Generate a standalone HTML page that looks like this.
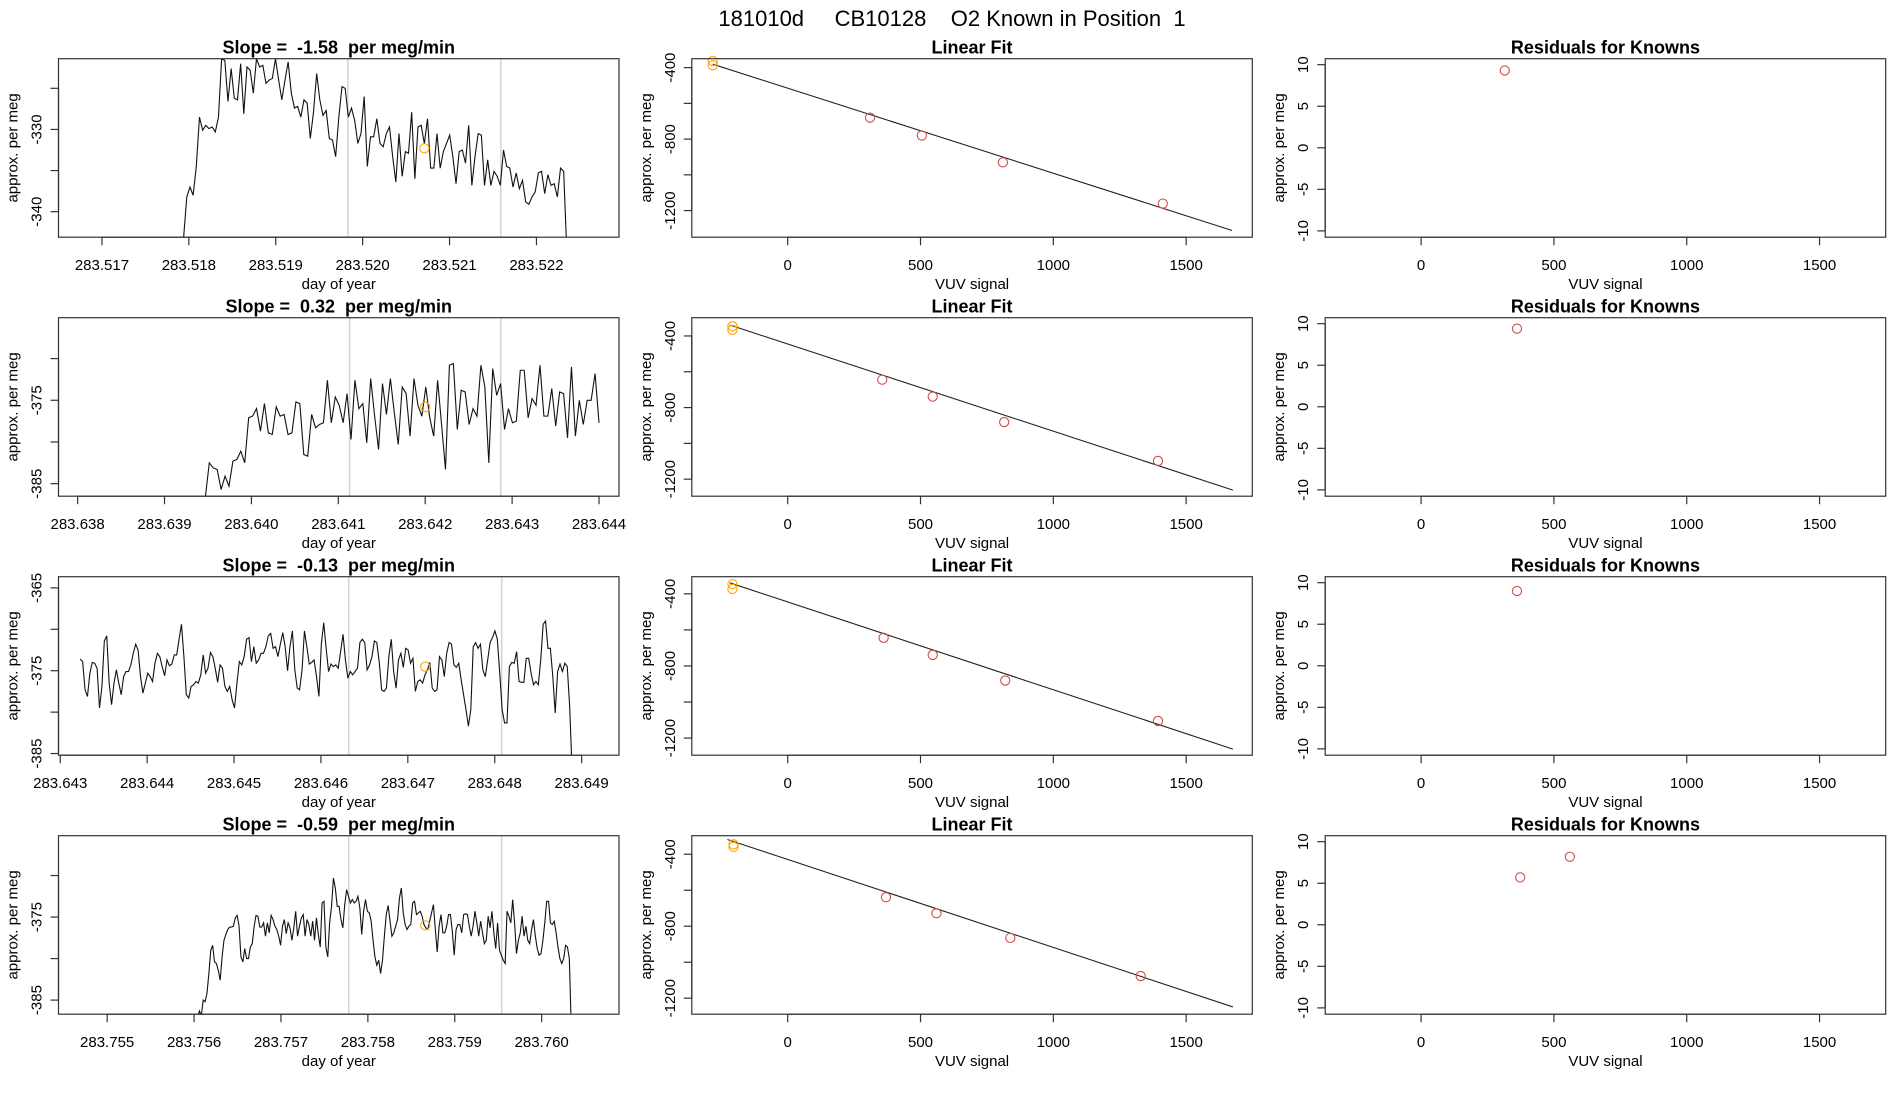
<!DOCTYPE html>
<html>
<head>
<meta charset="utf-8">
<style>
html,body{margin:0;padding:0;background:#fff;}
svg{display:block;}
text{font-family:"Liberation Sans",Arial,sans-serif;fill:#000;white-space:pre;}
</style>
</head>
<body>
<svg id="fig" width="1900" height="1100" viewBox="0 0 1900 1100" xmlns="http://www.w3.org/2000/svg">
<rect x="0" y="0" width="1900" height="1100" fill="#fff"/>
<text x="952" y="26" font-size="22" text-anchor="middle">181010d     CB10128    O2 Known in Position  1</text>
</svg>
<script>
// ===== Time-series panels (column 1) =====
const tsTitles = ["Slope =  -1.58  per meg/min","Slope =  0.32  per meg/min","Slope =  -0.13  per meg/min","Slope =  -0.59  per meg/min"];
const tsStart = [283.51794, 283.63947, 283.64323, 283.75604];
const tsEnd = [283.52235, 283.64400, 283.64889, 283.76034];
const tsXlimLo = [283.51650, 283.63778, 283.64298, 283.75444];
const tsXlimHi = [283.52295, 283.64423, 283.64943, 283.76089];
const tsYlimLo = [-343.1, -386.5, -385.2, -386.7];
const tsYlimHi = [-321.4, -365.1, -363.65, -365.2];
const tsXTicks = [
  [283.517,283.518,283.519,283.520,283.521,283.522],
  [283.638,283.639,283.640,283.641,283.642,283.643,283.644],
  [283.643,283.644,283.645,283.646,283.647,283.648,283.649],
  [283.755,283.756,283.757,283.758,283.759,283.760]
];
const tsYTicks = [[-325,-330,-335,-340],[-370,-375,-380,-385],[-365,-370,-375,-380,-385],[-370,-375,-380,-385]];
const tsYLabels = [[-330,-340],[-375,-385],[-365,-375,-385],[-375,-385]];
const tsGrayA = [283.51983, 283.64113, 283.64632, 283.75778];
const tsGrayB = [283.52159, 283.64287, 283.64808, 283.75954];
const tsOrangeT = [283.52071, 283.64200, 283.64720, 283.75866];
const tsOrangeV = [-332.3, -375.8, -374.5, -376.0];

const tsValues1 = [-343.1,-338.2,-337.0,-338.0,-334.5,-328.5,-330.1,-329.5,-329.9,-329.7,-330.3,-328.5,-321.4,-321.6,-326.6,-322.6,-326.2,-326.4,-322.0,-328.1,-322.4,-322.8,-325.6,-321.4,-322.4,-322.2,-324.4,-324.0,-323.8,-321.4,-324.0,-326.4,-324.0,-321.8,-325.6,-327.4,-327.2,-328.5,-326.4,-326.8,-331.1,-327.9,-323.2,-326.4,-328.3,-327.7,-331.1,-331.3,-333.3,-328.5,-324.8,-325.0,-328.5,-327.4,-328.9,-331.7,-330.5,-326.0,-334.5,-330.9,-330.9,-328.7,-331.7,-332.1,-330.5,-329.7,-333.3,-336.4,-330.5,-335.7,-332.7,-332.9,-327.9,-336.0,-329.7,-329.5,-331.7,-328.7,-334.7,-334.7,-330.5,-334.7,-332.7,-331.7,-330.7,-333.3,-336.6,-332.7,-332.5,-334.1,-329.5,-336.8,-333.3,-330.5,-330.7,-336.8,-333.7,-336.8,-335.1,-335.7,-336.8,-332.5,-334.5,-334.7,-337.0,-335.3,-337.2,-336.2,-338.8,-339.1,-338.2,-337.6,-335.3,-335.1,-337.8,-335.5,-336.8,-336.6,-338.2,-334.7,-335.1,-345.0];
const tsValues2 = [-386.6,-382.5,-383.1,-383.3,-385.7,-384.1,-385.3,-382.3,-382.1,-381.1,-382.5,-377.1,-376.9,-376.0,-378.7,-375.4,-378.9,-379.1,-375.8,-376.9,-376.7,-379.1,-378.9,-375.2,-375.4,-381.5,-381.7,-376.7,-378.3,-377.9,-377.7,-372.6,-377.7,-374.6,-375.6,-377.7,-374.2,-379.7,-372.6,-376.0,-375.4,-380.1,-372.4,-376.9,-380.9,-373.0,-376.7,-372.4,-376.5,-380.3,-373.4,-374.2,-379.3,-372.4,-375.6,-376.9,-373.4,-377.1,-379.3,-372.6,-377.9,-383.3,-370.8,-370.6,-378.5,-373.8,-374.0,-377.9,-376.0,-376.9,-370.8,-373.4,-382.5,-371.2,-374.4,-373.0,-378.5,-376.0,-377.7,-377.5,-371.4,-371.4,-377.1,-374.8,-375.6,-370.8,-376.9,-376.9,-373.6,-378.1,-374.0,-374.2,-379.5,-371.0,-379.3,-375.0,-377.9,-375.0,-375.0,-371.8,-377.7];
const tsValues3 = [-373.6,-373.9,-377.3,-378.1,-375.3,-374.0,-374.1,-374.7,-379.5,-376.9,-371.4,-370.8,-376.5,-379.1,-376.5,-374.9,-376.5,-377.9,-375.7,-375.1,-375.1,-374.3,-372.9,-371.8,-372.5,-375.7,-377.7,-376.5,-375.3,-375.7,-376.3,-374.1,-372.9,-373.3,-374.5,-375.6,-373.7,-374.4,-374.2,-373.1,-373.1,-371.2,-369.4,-373.3,-377.9,-378.3,-376.9,-376.7,-376.3,-376.5,-375.5,-373.1,-375.3,-374.7,-372.8,-373.3,-374.7,-376.4,-374.3,-374.7,-376.9,-377.5,-376.9,-378.5,-379.5,-376.5,-373.9,-374.3,-373.3,-371.2,-371.0,-373.9,-372.1,-374.1,-373.7,-372.9,-372.9,-372.1,-370.8,-370.5,-372.3,-372.1,-373.3,-371.8,-370.4,-372.1,-375.0,-372.1,-370.2,-374.9,-377.1,-377.3,-374.9,-370.2,-372.1,-374.2,-374.0,-373.7,-375.7,-378.1,-371.8,-369.2,-372.3,-375.1,-374.2,-374.5,-374.3,-374.7,-372.7,-370.6,-373.7,-375.9,-375.1,-375.5,-375.1,-374.7,-371.6,-371.2,-371.6,-374.9,-374.3,-373.3,-371.4,-371.6,-373.9,-377.3,-377.5,-377.1,-373.3,-371.2,-375.1,-377.1,-373.7,-372.9,-374.6,-372.3,-372.5,-374.1,-373.5,-377.5,-376.3,-376.1,-376.5,-375.5,-374.9,-374.0,-377.1,-377.5,-377.3,-373.3,-373.7,-375.7,-372.9,-371.6,-371.8,-374.3,-374.6,-374.1,-376.1,-377.9,-379.7,-381.7,-379.7,-372.1,-371.6,-372.3,-371.8,-374.9,-375.7,-373.7,-371.6,-371.0,-370.2,-371.2,-375.3,-379.7,-381.3,-381.3,-374.5,-374.0,-374.1,-372.7,-376.3,-376.4,-376.4,-373.5,-373.5,-375.3,-376.7,-376.3,-376.7,-373.7,-369.4,-369.0,-372.3,-372.3,-375.7,-380.1,-375.1,-374.2,-375.1,-374.1,-374.5,-379.3,-387.0];
const tsValues4 = [-387.0,-386.3,-386.9,-385.0,-385.2,-384.2,-381.8,-379.0,-378.4,-380.4,-380.6,-381.4,-382.6,-379.8,-377.8,-377.1,-376.5,-376.2,-376.2,-376.1,-375.1,-374.8,-376.1,-379.8,-380.4,-378.8,-380.0,-380.0,-378.6,-378.2,-376.1,-374.8,-374.9,-376.2,-376.2,-375.7,-377.3,-375.7,-376.9,-374.8,-375.3,-376.1,-376.5,-377.3,-378.4,-376.1,-375.3,-377.0,-375.7,-376.3,-377.8,-376.3,-374.3,-377.3,-376.1,-375.1,-374.7,-377.3,-375.3,-375.9,-377.3,-375.5,-377.8,-375.1,-377.1,-378.6,-373.3,-373.1,-378.6,-379.8,-375.7,-373.7,-370.3,-371.5,-373.7,-373.7,-375.3,-376.3,-373.5,-371.7,-372.5,-373.3,-372.9,-373.3,-373.1,-372.5,-373.9,-377.1,-374.3,-372.9,-374.3,-374.5,-375.5,-377.8,-379.8,-380.8,-380.2,-381.8,-380.2,-377.3,-374.7,-373.6,-375.5,-377.3,-376.9,-376.1,-375.3,-372.7,-371.5,-374.5,-375.9,-376.5,-376.1,-375.9,-373.3,-373.1,-374.7,-374.5,-374.3,-374.9,-375.9,-376.3,-376.5,-375.5,-374.5,-373.5,-376.5,-379.2,-376.1,-374.7,-376.9,-376.9,-376.1,-374.7,-374.7,-376.7,-379.6,-376.5,-375.9,-375.9,-376.9,-374.7,-374.6,-374.7,-376.1,-377.3,-376.1,-374.3,-375.7,-377.3,-375.5,-376.9,-378.2,-377.8,-374.9,-376.3,-374.3,-376.9,-378.8,-375.7,-379.0,-379.6,-380.2,-380.6,-374.3,-374.9,-375.7,-372.9,-375.7,-379.4,-377.8,-376.9,-374.9,-377.3,-376.1,-377.8,-378.2,-376.5,-375.3,-377.3,-378.8,-379.6,-379.4,-377.8,-375.7,-373.1,-373.1,-375.7,-375.9,-375.5,-376.9,-378.6,-380.0,-380.6,-380.0,-378.4,-378.6,-380.0,-388.0];
const tsValues = [tsValues1, tsValues2, tsValues3, tsValues4];

// ===== Linear fit panels (column 2) =====
const fitRedX = [[310,505,810,1412],[356,546,815,1394],[361,546,819,1394],[370,560,838,1329]];
const fitRedY = [[-680,-780,-930,-1161],[-644,-739,-881,-1098],[-644,-739,-881,-1105],[-639,-728,-865,-1077]];
const fitOrangeX = [[-282,-282],[-208,-208],[-208,-208],[-204,-204]];
const fitOrangeY = [[-363,-387],[-346,-366],[-346,-373],[-345,-359]];
const fitIntercept = [-515,-445,-445,-429];
const fitSlope = [-0.476,-0.487,-0.487,-0.489];
const fitLineX0 = [-282,-218,-218,-227];
const fitLineX1 = [1673,1676,1676,1676];
const fitYlimLo = [-1349,-1295,-1295,-1289];
const fitYlimHi = [-350,-298,-305,-297];
const fitYTicks = [-400,-600,-800,-1000,-1200];
const fitYLabels = [-400,-800,-1200];
const vuvXlim = [-361,1749];
const vuvXTicks = [0,500,1000,1500];

// ===== Residual panels (column 3) =====
const resX = [[315],[361],[361],[373,560]];
const resY = [[9.3],[9.4],[9.0],[5.7,8.19]];
const resYlim = [-10.76,10.72];
const resYTicks = [-10,-5,0,5,10];

// ===== layout =====
const NS = "http://www.w3.org/2000/svg";
const svg = document.getElementById('fig');
const colLeft = [58.5, 691.8, 1325.2];
const boxW = 560.5;
const rowTop = [58.7, 317.7, 576.7, 835.7];
const boxH = 178.5;
const tickLen = 8;

function mk(tag, attrs, parent){
  const e = document.createElementNS(NS, tag);
  for (const k in attrs) e.setAttribute(k, attrs[k]);
  (parent||svg).appendChild(e);
  return e;
}
function scale(d0,d1,p0,p1){ return v => p0 + (v-d0)/(d1-d0)*(p1-p0); }

function drawFrame(g, L, T, title, titleName, xlab, ylab){
  const box = mk('rect',{x:L,y:T,width:boxW,height:boxH,fill:'none',stroke:'#333','stroke-width':1.2},g);
  
  
  const t = mk('text',{x:L+boxW/2,y:T-5,'font-size':18,'font-weight':'bold','text-anchor':'middle'},g);
  t.textContent = title;
  
  
  const xl = mk('text',{x:L+boxW/2,y:T+boxH+52,'font-size':15,'text-anchor':'middle'},g);
  xl.textContent = xlab;
  
  
  const yl = mk('text',{x:0,y:0,'font-size':15,'text-anchor':'middle',transform:`translate(${L-41},${T+boxH/2}) rotate(-90)`},g);
  yl.textContent = ylab;
  
  
}
function drawXAxis(g, ticks, sx, B, fmt, xmin, xmax){
  const ax = mk('line',{x1:sx(xmin),y1:B,x2:sx(xmax),y2:B,stroke:'#333','stroke-width':1.2},g);
  
  
  ticks.forEach(v=>{
    const x = sx(v);
    const tk = mk('line',{x1:x,y1:B,x2:x,y2:B+tickLen,stroke:'#333','stroke-width':1.2},g);
    
    
    const lb = mk('text',{x:x,y:B+33,'font-size':15,'text-anchor':'middle'},g);
    lb.textContent = fmt(v);
    
    
  });
}
function drawYAxis(g, ticks, labels, sy, L){
  const ax = mk('line',{x1:L,y1:sy(ticks[0]),x2:L,y2:sy(ticks[ticks.length-1]),stroke:'#333','stroke-width':1.2},g);
  
  
  ticks.forEach(v=>{
    const y = sy(v);
    const tk = mk('line',{x1:L-tickLen,y1:y,x2:L,y2:y,stroke:'#333','stroke-width':1.2},g);
    
    
  });
  labels.forEach(v=>{
    const y = sy(v);
    const lb = mk('text',{x:0,y:0,'font-size':15,'text-anchor':'middle',transform:`translate(${L-17},${y}) rotate(-90)`},g);
    lb.textContent = String(v);
    
    
  });
}
function circle(g, cx, cy, color, name){
  const c = mk('circle',{cx:cx,cy:cy,r:4.6,fill:'none',stroke:color,'stroke-width':1.1},g);
  
  
}
function clip(id, L, T){
  const cp = mk('clipPath',{id:id});
  mk('rect',{x:L,y:T,width:boxW,height:boxH},cp);
}

for (let r=0;r<4;r++){
  const T = rowTop[r], B = T+boxH;
  {
    const L = colLeft[0], R = L+boxW;
    const g = mk('g',{});
    
    
    const sx = scale(tsXlimLo[r], tsXlimHi[r], L, R);
    const sy = scale(tsYlimLo[r], tsYlimHi[r], B, T);
    clip('c1_'+r, L, T);
    [tsGrayA[r], tsGrayB[r]].forEach(v=>{
      const gl = mk('line',{x1:sx(v),y1:T,x2:sx(v),y2:B,stroke:'#d3d3d3','stroke-width':1.5},g);
      
      
    });
    const vals = tsValues[r];
    const n = vals.length;
    const pts = vals.map((v,i)=>{
      const t = tsStart[r] + (tsEnd[r]-tsStart[r])*i/(n-1);
      return sx(t).toFixed(2)+','+sy(v).toFixed(2);
    }).join(' ');
    const pl = mk('polyline',{points:pts,fill:'none',stroke:'#111','stroke-width':1.1,'clip-path':`url(#c1_${r})`},g);
    
    
    circle(g, sx(tsOrangeT[r]), sy(tsOrangeV[r]), '#FFA500', 'mean-point');
    drawFrame(g, L, T, tsTitles[r], 'slope-title', 'day of year', 'approx. per meg');
    drawXAxis(g, tsXTicks[r], sx, B, v=>v.toFixed(3), tsXTicks[r][0], tsXTicks[r][tsXTicks[r].length-1]);
    drawYAxis(g, tsYTicks[r], tsYLabels[r], sy, L);
  }
  {
    const L = colLeft[1], R = L+boxW;
    const g = mk('g',{});
    
    
    const sx = scale(vuvXlim[0], vuvXlim[1], L, R);
    const sy = scale(fitYlimLo[r], fitYlimHi[r], B, T);
    clip('c2_'+r, L, T);
    const x0 = fitLineX0[r], x1 = fitLineX1[r];
    const fl = mk('line',{x1:sx(x0),y1:sy(fitIntercept[r]+fitSlope[r]*x0),x2:sx(x1),y2:sy(fitIntercept[r]+fitSlope[r]*x1),stroke:'#222','stroke-width':1.1,'clip-path':`url(#c2_${r})`},g);
    
    
    fitOrangeX[r].forEach((x,i)=>circle(g, sx(x), sy(fitOrangeY[r][i]), '#FFA500', 'sample-point'));
    fitRedX[r].forEach((x,i)=>circle(g, sx(x), sy(fitRedY[r][i]), '#d24b4b', 'known-point'));
    drawFrame(g, L, T, 'Linear Fit', 'linear-fit-title', 'VUV signal', 'approx. per meg');
    drawXAxis(g, vuvXTicks, sx, B, v=>String(v), 0, 1500);
    drawYAxis(g, fitYTicks, fitYLabels, sy, L);
  }
  {
    const L = colLeft[2], R = L+boxW;
    const g = mk('g',{});
    
    
    const sx = scale(vuvXlim[0], vuvXlim[1], L, R);
    const sy = scale(resYlim[0], resYlim[1], B, T);
    resX[r].forEach((x,i)=>circle(g, sx(x), sy(resY[r][i]), '#d24b4b', 'residual-point'));
    drawFrame(g, L, T, 'Residuals for Knowns', 'residuals-title', 'VUV signal', 'approx. per meg');
    drawXAxis(g, vuvXTicks, sx, B, v=>String(v), 0, 1500);
    drawYAxis(g, resYTicks, resYTicks, sy, L);
  }
}
</script>
</body>
</html>
